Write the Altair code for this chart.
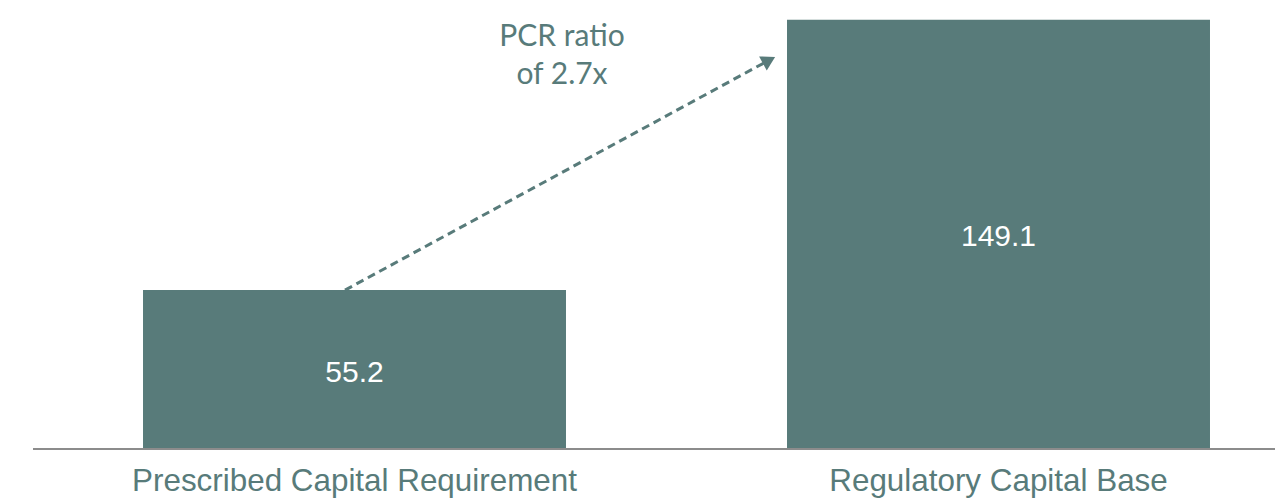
import altair as alt
import pandas as pd

categories = ["Prescribed Capital Requirement", "Regulatory Capital Base"]
values = [55.2, 149.1]
value_labels = ["55.2", "149.1"]

annotation_lines = ["PCR ratio", "of 2.7x"]
arrow_x = [345, 767]       # annotation layer horizontal units (0..1275)
arrow_y = [55.2, 134.7]    # value units
annot_x = [562]
annot_y = [140.0]

TEAL = "#587b7a"
W, H = 1275, 449

bars_df = pd.DataFrame({"cat": categories, "value": values, "label": value_labels})
arrow_df = pd.DataFrame({"ax": arrow_x, "ay": arrow_y, "order": [0, 1]})
head_df = pd.DataFrame({"ax": [arrow_x[1]], "ay": [arrow_y[1]]})
annot_df = pd.DataFrame({"ax": annot_x, "ay": annot_y, "txt": ["\n".join(annotation_lines)]})

yscale = alt.Scale(domain=[0, 156.0], nice=False, zero=True)
xscale = alt.Scale(type="band", paddingInner=0.3432, paddingOuter=0.1615, align=0.6875)
qscale = alt.Scale(domain=[0, 1275], nice=False, zero=False)

xenc = alt.X("cat:N", scale=xscale, sort=categories, title=None,
             axis=alt.Axis(labelAngle=0, domain=False, ticks=False, labelPadding=16,
                           labelFontSize=31.4, labelFont="Liberation Sans",
                           labelColor=TEAL, grid=False, labelLimit=800))

bars = alt.Chart(bars_df).mark_bar(color=TEAL).encode(
    x=xenc,
    y=alt.Y("value:Q", scale=yscale, axis=None),
)

vals = alt.Chart(bars_df).transform_calculate(mid="datum.value / 2").mark_text(
    color="white", fontSize=30, font="Liberation Sans", baseline="middle", dy=3
).encode(
    x=alt.X("cat:N", scale=xscale, sort=categories, axis=None),
    y=alt.Y("mid:Q", scale=yscale, axis=None),
    text="label:N",
)

base_df = pd.DataFrame({"ax": [33], "ax2": [1275], "ay": [0]})
baseline = alt.Chart(base_df).mark_rule(color="#8c8c8c", strokeWidth=2).encode(
    x=alt.X("ax:Q", scale=qscale, axis=None),
    x2="ax2:Q",
    y=alt.Y("ay:Q", scale=yscale, axis=None),
)

arrow = alt.Chart(arrow_df).mark_line(color=TEAL, strokeWidth=3, strokeDash=[8, 5]).encode(
    x=alt.X("ax:Q", scale=qscale, axis=None),
    y=alt.Y("ay:Q", scale=yscale, axis=None),
    order="order:Q",
)
head = alt.Chart(head_df).mark_point(shape="triangle", filled=True, color=TEAL,
                                     opacity=1, size=256, angle=61.6).encode(
    x=alt.X("ax:Q", scale=qscale, axis=None),
    y=alt.Y("ay:Q", scale=yscale, axis=None),
)
annot = alt.Chart(annot_df).mark_text(color=TEAL, fontSize=30, font="Lato",
                                      align="center", baseline="alphabetic",
                                      lineBreak="\n", lineHeight=38).encode(
    x=alt.X("ax:Q", scale=qscale, axis=None),
    y=alt.Y("ay:Q", scale=yscale, axis=None),
    text="txt:N",
)

chart = alt.layer(bars, vals, baseline, arrow, head, annot).resolve_scale(
    x="independent"
).properties(
    width=W, height=H,
    autosize=alt.AutoSizeParams(type="none"),
    padding={"left": 0, "top": 0, "right": 0, "bottom": 49},
    background="white",
).configure_view(stroke=None)

chart.save("out.html", embed_options={"renderer": "svg", "actions": False})
